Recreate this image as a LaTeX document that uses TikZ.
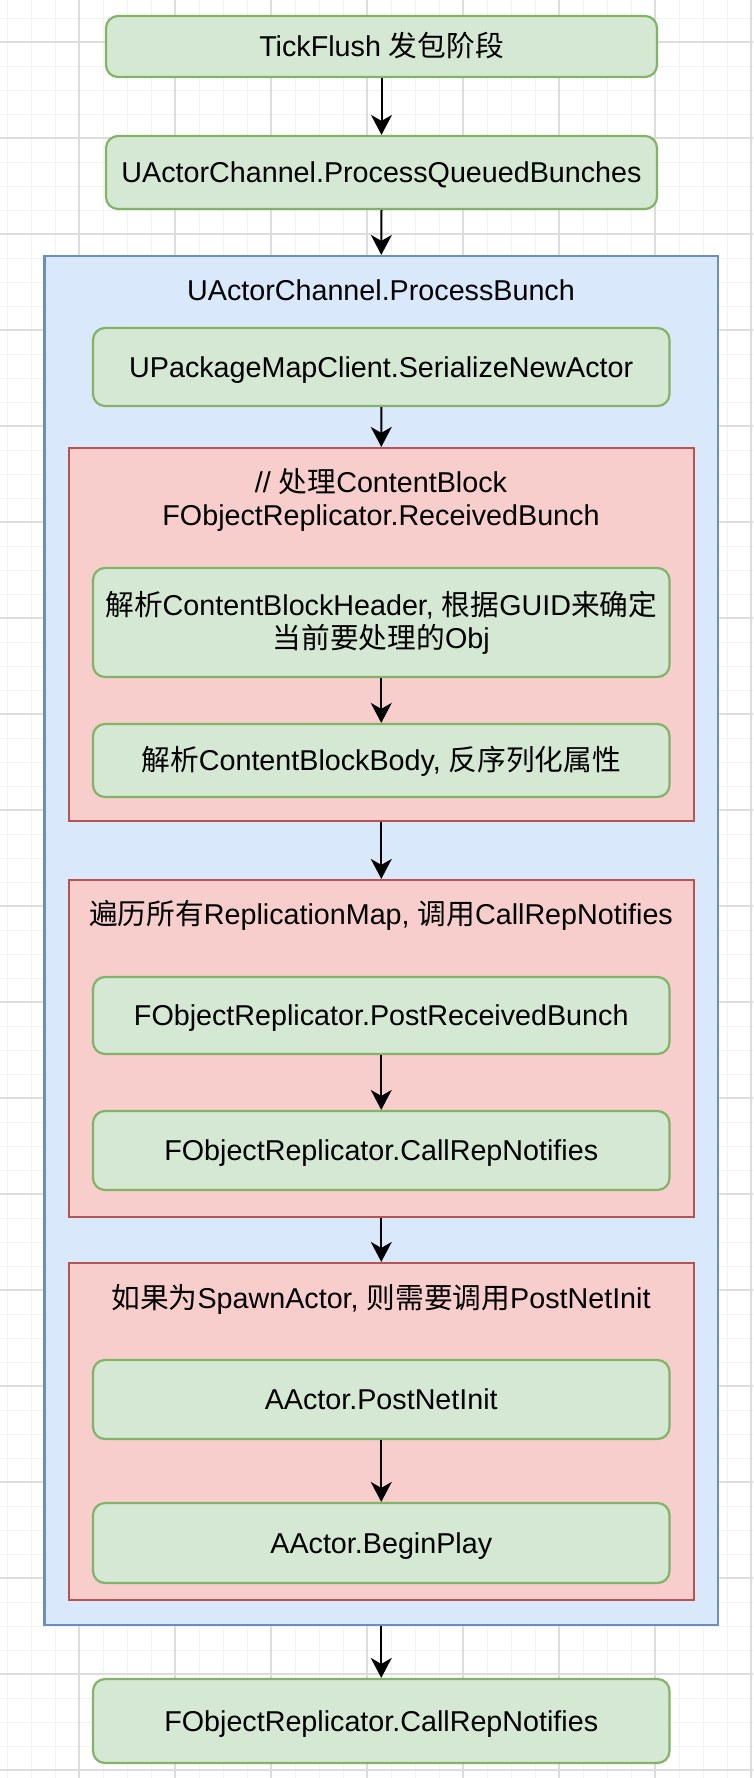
\documentclass[tikz,border=0pt]{standalone}
\usepackage{fontspec}
\setmainfont{Liberation Sans}
\newfontfamily\cjk{Noto Sans CJK SC}
\usetikzlibrary{arrows.meta}
\definecolor{gfill}{HTML}{D5E8D4}
\definecolor{gline}{HTML}{82B366}
\definecolor{bfill}{HTML}{DAE8FC}
\definecolor{bline}{HTML}{6C8EBF}
\definecolor{rfill}{HTML}{F8CECC}
\definecolor{rline}{HTML}{B85450}
\definecolor{gridminor}{HTML}{F2F2F2}
\definecolor{gridmajor}{HTML}{DDDDDD}
\newcommand{\mainfs}{\fontsize{28.7pt}{33pt}\selectfont}
\begin{document}
\begin{tikzpicture}[x=1pt,y=-1pt,
  gbox/.style={draw=gline, fill=gfill, line width=2.2pt, rounded corners=12pt,
    minimum width=576.5pt, align=center, inner sep=0pt, font=\mainfs},
  onel/.style={text height=20.6pt, text depth=0pt},
  bbox/.style={draw=bline, fill=bfill, line width=2.2pt, inner sep=0pt},
  rbox/.style={draw=rline, fill=rfill, line width=2.2pt, inner sep=0pt,
    minimum width=625.4pt},
  ttl/.style={font=\mainfs, align=center, inner sep=0pt},
  arr/.style={-{Stealth[length=20pt,width=21pt,inset=6pt]}, line width=2pt, black},
  gmin/.style={draw=gridminor, line width=1pt},
  gmaj/.style={draw=gridmajor, line width=1.2pt}]
% background and grid
\fill[white] (0,0) rectangle (753,1778);
\useasboundingbox (0,0) rectangle (753,1778);
\foreach \i in {0,...,31} {\draw[gmin] ({7+24*\i},0) -- ({7+24*\i},1778);}
\foreach \i in {0,...,73} {\draw[gmin] (0,{18+24*\i}) -- (753,{18+24*\i});}
\foreach \i in {0,...,7} {\draw[gmaj] ({79+96*\i},0) -- ({79+96*\i},1778);}
\foreach \i in {0,...,18} {\draw[gmaj] (0,{42+96*\i}) -- (753,{42+96*\i});}

% top boxes
\node[gbox, onel, minimum width=551pt, minimum height=61pt] (tick) at (381.5,46.5)
  {TickFlush {\cjk 发包阶段}};
\node[gbox, onel, minimum width=551pt, minimum height=73pt] (pqb) at (381.5,172.5)
  {UActorChannel.ProcessQueuedBunches};

% containers
\node[bbox, minimum width=673.5pt, minimum height=1369pt] (blue) at (381.25,940.5) {};
\node[ttl, anchor=base] (bt) at (381,300) {UActorChannel.ProcessBunch};
\node[gbox, onel, minimum height=78pt] (sna) at (381.25,367)
  {UPackageMapClient.SerializeNewActor};

\node[rbox, minimum height=373pt] (red1) at (381.3,634.5) {};
\node[ttl] (r1t) at (381,500) {// {\cjk 处理}ContentBlock\\FObjectReplicator.ReceivedBunch};
\node[gbox, minimum height=109pt] (ga) at (381.25,622.5)
  {{\cjk 解析}ContentBlockHeader, {\cjk 根据}GUID{\cjk 来确定}\\{\cjk 当前要处理的}Obj};
\node[gbox, onel, minimum height=73pt] (gb) at (381.25,760.5)
  {{\cjk 解析}ContentBlockBody, {\cjk 反序列化属性}};

\node[rbox, minimum height=337pt] (red2) at (381.3,1048.5) {};
\node[ttl, anchor=base] (r2t) at (381,924)
  {{\cjk 遍历所有}ReplicationMap, {\cjk 调用}CallRepNotifies};
\node[gbox, onel, minimum height=77pt] (gc) at (381.25,1015.5)
  {FObjectReplicator.PostReceivedBunch};
\node[gbox, onel, minimum height=79pt] (gd) at (381.25,1150.5)
  {FObjectReplicator.CallRepNotifies};

\node[rbox, minimum height=337pt] (red3) at (381.3,1431.5) {};
\node[ttl, anchor=base] (r3t) at (381,1308)
  {{\cjk 如果为}SpawnActor, {\cjk 则需要调用}PostNetInit};
\node[gbox, onel, minimum height=79pt] (ge) at (381.25,1399.5)
  {AActor.PostNetInit};
\node[gbox, onel, minimum height=80pt] (gf) at (381.25,1543)
  {AActor.BeginPlay};

\node[gbox, onel, minimum height=84pt] (fin) at (381.25,1721)
  {FObjectReplicator.CallRepNotifies};

% connectors
\draw[arr] (tick.south) -- (pqb.north);
\draw[arr] (pqb.south) -- (blue.north);
\draw[arr] (sna.south) -- (red1.north);
\draw[arr] (ga.south) -- (gb.north);
\draw[arr] (red1.south) -- (red2.north);
\draw[arr] (gc.south) -- (gd.north);
\draw[arr] (red2.south) -- (red3.north);
\draw[arr] (ge.south) -- (gf.north);
\draw[arr] (blue.south) -- (fin.north);
\end{tikzpicture}
\end{document}
